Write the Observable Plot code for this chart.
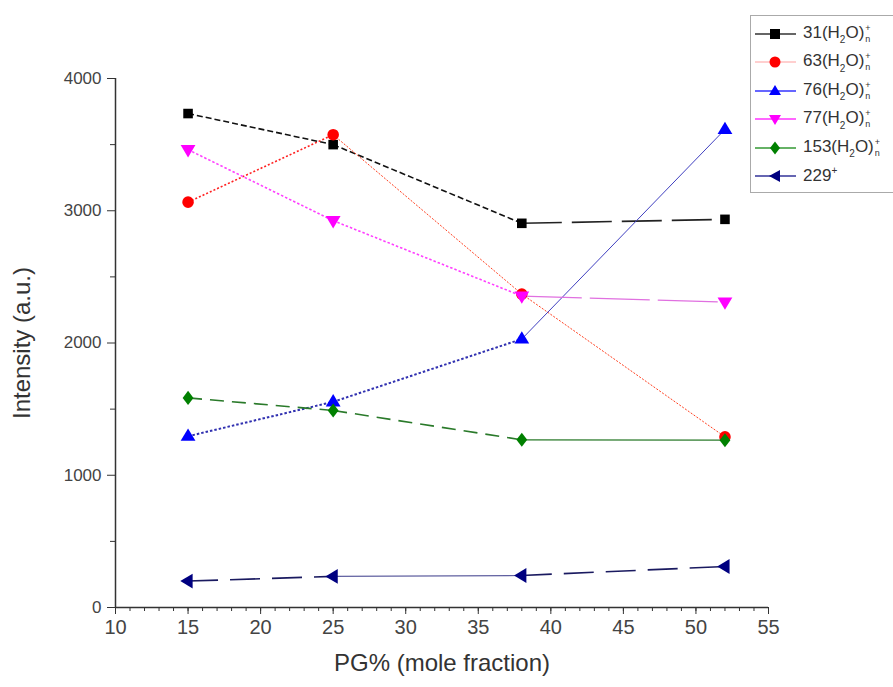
<!DOCTYPE html>
<html>
<head>
<meta charset="utf-8">
<script src="https://cdn.jsdelivr.net/npm/d3@7"></script>
<script src="https://cdn.jsdelivr.net/npm/@observablehq/plot@0.6"></script>
<style>
  html, body { margin: 0; padding: 0; background: #fff; }
  body { width: 893px; height: 687px; overflow: hidden; position: relative; font-family: "Liberation Sans", Arial, sans-serif; }
  #chart { position: absolute; left: 0; top: 0; }
  #legend { position: absolute; left: 750px; top: 15px; width: 170px; height: 176px; border: 1px solid #aaa; background: #fff; }
  .row { position: absolute; left: 0; height: 28px; display: flex; align-items: center; font-size: 17px; color: #333; white-space: nowrap; }
  .row svg { margin-left: 2px; margin-right: 6px; }
  .ss { display: inline-flex; flex-direction: column; vertical-align: middle; margin-left: 1px; }
  .ss > span { display: block; font-size: 9px; line-height: 11px; height: 11px; overflow: hidden; }
  .sub { font-size: 10px; position: relative; top: 5px; }
  .sup { font-size: 10px; position: relative; top: -7px; }
</style>
</head>
<body>
<div id="chart"></div>
<div id="legend"></div>
<script>
// ---- data ----
const pg = [15, 25, 38, 52];
const names = ["31", "63", "76", "77", "153", "229"];
const s31  = [3735, 3500, 2905, 2935];
const s63  = [3065, 3575, 2370, 1290];
const s76  = [1295, 1555, 2030, 3615];
const s77  = [3462, 2925, 2355, 2310];
const s153 = [1585, 1490, 1268, 1265];
const s229 = [200, 235, 242, 310];
const xTicks = [10, 15, 20, 25, 30, 35, 40, 45, 50, 55];
const yTicks = [0, 1000, 2000, 3000, 4000];

const values = {"31": s31, "63": s63, "76": s76, "77": s77, "153": s153, "229": s229};
const colors = {"31": "#000000", "63": "#ff0000", "76": "#0000ff", "77": "#ff00ff", "153": "#008000", "229": "#000080"};

const points = [];
const segs = [];
for (const n of names) {
  values[n].forEach((v, i) => {
    points.push({series: n, x: pg[i], y: v});
    if (i > 0) segs.push({series: n, i, x1: pg[i-1], y1: values[n][i-1], x2: pg[i], y2: v});
  });
}

// custom symbols
const triDown = {draw(ctx, size) { const s = Math.sqrt(size) * 0.72; ctx.moveTo(-s, -s * 0.62); ctx.lineTo(s, -s * 0.62); ctx.lineTo(0, s * 1.05); ctx.closePath(); }};
const triLeft = {draw(ctx, size) { const s = Math.sqrt(size) * 0.72; ctx.moveTo(s * 0.62, -s); ctx.lineTo(s * 0.62, s); ctx.lineTo(-s * 1.05, 0); ctx.closePath(); }};
const triUp = {draw(ctx, size) { const s = Math.sqrt(size) * 0.72; ctx.moveTo(-s, s * 0.62); ctx.lineTo(s, s * 0.62); ctx.lineTo(0, -s * 1.05); ctx.closePath(); }};
const diamond = {draw(ctx, size) { const s = Math.sqrt(size) * 0.62; ctx.moveTo(0, -s * 1.1); ctx.lineTo(s * 0.85, 0); ctx.lineTo(0, s * 1.1); ctx.lineTo(-s * 0.85, 0); ctx.closePath(); }};
const symbols = {"31": "square", "63": "circle", "76": triUp, "77": triDown, "153": diamond, "229": triLeft};

// segment styles: [series, segment indices, dasharray, width, color]
const segStyles = [
  ["31", [1, 2], "6,3", 1.6, "#111"],
  ["31", [3], "40,10", 1.6, "#222"],
  ["63", [1], "2,2", 1.6, "#ff2020"],
  ["63", [2, 3], "2,1.5", 1, "#ff4020"],
  ["76", [1, 2], "2.5,2", 2, "#3030b0"],
  ["76", [3], null, 1, "#4040c0"],
  ["77", [1, 2], "2.5,2", 1.6, "#ff40ff"],
  ["77", [3], "60,8", 1.2, "#e070e0"],
  ["153", [1, 2], "14,8", 1.6, "#2a7a2a"],
  ["153", [3], null, 1.2, "#2a7a2a"],
  ["229", [1, 3], "30,12", 1.6, "#1a1a60"],
  ["229", [2], null, 1.2, "#6060a0"]
];

const segMarks = segStyles.map(([n, idx, dash, w, c]) =>
  Plot.link(segs.filter(d => d.series === n && idx.includes(d.i)), {
    x1: "x1", y1: "y1", x2: "x2", y2: "y2",
    stroke: c, strokeWidth: w, strokeDasharray: dash ?? undefined
  })
);

const dotMarks = names.map(n =>
  Plot.dot(points.filter(d => d.series === n), {
    x: "x", y: "y", symbol: () => symbols[n], r: n === "31" ? 5.4 : 5.8,
    fill: colors[n], stroke: "none"
  })
);

const axisColor = "#333";
const chart = Plot.plot({
  width: 893,
  height: 687,
  marginLeft: 115,
  marginRight: 125,
  marginTop: 78,
  marginBottom: 80,
  style: {fontFamily: "'Liberation Sans', Arial, sans-serif", background: "#fff", color: axisColor},
  x: {domain: [10, 55], axis: null},
  y: {domain: [0, 4000], axis: null},
  symbol: {type: "identity"},
  marks: [
    Plot.axisX({ticks: d3.range(10, 56, 1), tickSize: 4, text: null, stroke: axisColor}),
    Plot.axisX({ticks: xTicks, tickSize: 7, tickPadding: 5, fontSize: 20, stroke: axisColor, fill: "#444", label: null, tickFormat: d => String(d)}),
    Plot.axisY({ticks: d3.range(500, 4000, 1000), tickSize: 5, text: null, stroke: axisColor}),
    Plot.axisY({ticks: yTicks, tickSize: 8, tickPadding: 6, fontSize: 17, stroke: axisColor, fill: "#444", label: null, tickFormat: d => String(d)}),
    Plot.ruleX([10], {y1: 0, y2: 4000, stroke: axisColor, strokeWidth: 1.5}),
    Plot.ruleY([0], {x1: 10, x2: 55, stroke: axisColor, strokeWidth: 1.5}),
    Plot.text(["PG% (mole fraction)"], {frameAnchor: "bottom", textAnchor: "middle", dy: 63, fontSize: 24, fill: "#333"}),
    Plot.text(["Intensity (a.u.)"], {frameAnchor: "left", textAnchor: "middle", dx: -93, rotate: -90, fontSize: 24, fill: "#333"}),
    ...segMarks,
    ...dotMarks
  ]
});
document.getElementById("chart").appendChild(chart);

// ---- legend ----
const legendLabels = {
  "31": '31(H<span class="sub">2</span>O)<span class="ss"><span>+</span><span>n</span></span>',
  "63": '63(H<span class="sub">2</span>O)<span class="ss"><span>+</span><span>n</span></span>',
  "76": '76(H<span class="sub">2</span>O)<span class="ss"><span>+</span><span>n</span></span>',
  "77": '77(H<span class="sub">2</span>O)<span class="ss"><span>+</span><span>n</span></span>',
  "153": '153(H<span class="sub">2</span>O)<span class="ss"><span>+</span><span>n</span></span>',
  "229": '229<span class="sup">+</span>'
};
const legendPaths = {
  "31": '<rect x="16" y="5" width="10" height="10"/>',
  "63": '<circle cx="21" cy="10" r="5.5"/>',
  "76": '<path d="M15,14 L27,14 L21,4 Z"/>',
  "77": '<path d="M15,6 L27,6 L21,16 Z"/>',
  "153": '<path d="M21,3.5 L26,10 L21,16.5 L16,10 Z"/>',
  "229": '<path d="M26,4 L26,16 L15,10 Z"/>'
};
const legend = document.getElementById("legend");
names.forEach((n, i) => {
  const row = document.createElement("div");
  row.className = "row";
  row.style.top = (4 + i * 28.4) + "px";
  const c = colors[n];
  row.innerHTML = `<svg width="44" height="20" viewBox="0 0 44 20"><line x1="2" y1="10" x2="43" y2="10" stroke="${c}" stroke-width="1.3" stroke-opacity="${n === "63" ? 0.25 : 0.8}"/><g fill="${c}" transform="translate(1,0)">${legendPaths[n]}</g></svg><span>${legendLabels[n]}</span>`;
  legend.appendChild(row);
});
</script>
</body>
</html>
